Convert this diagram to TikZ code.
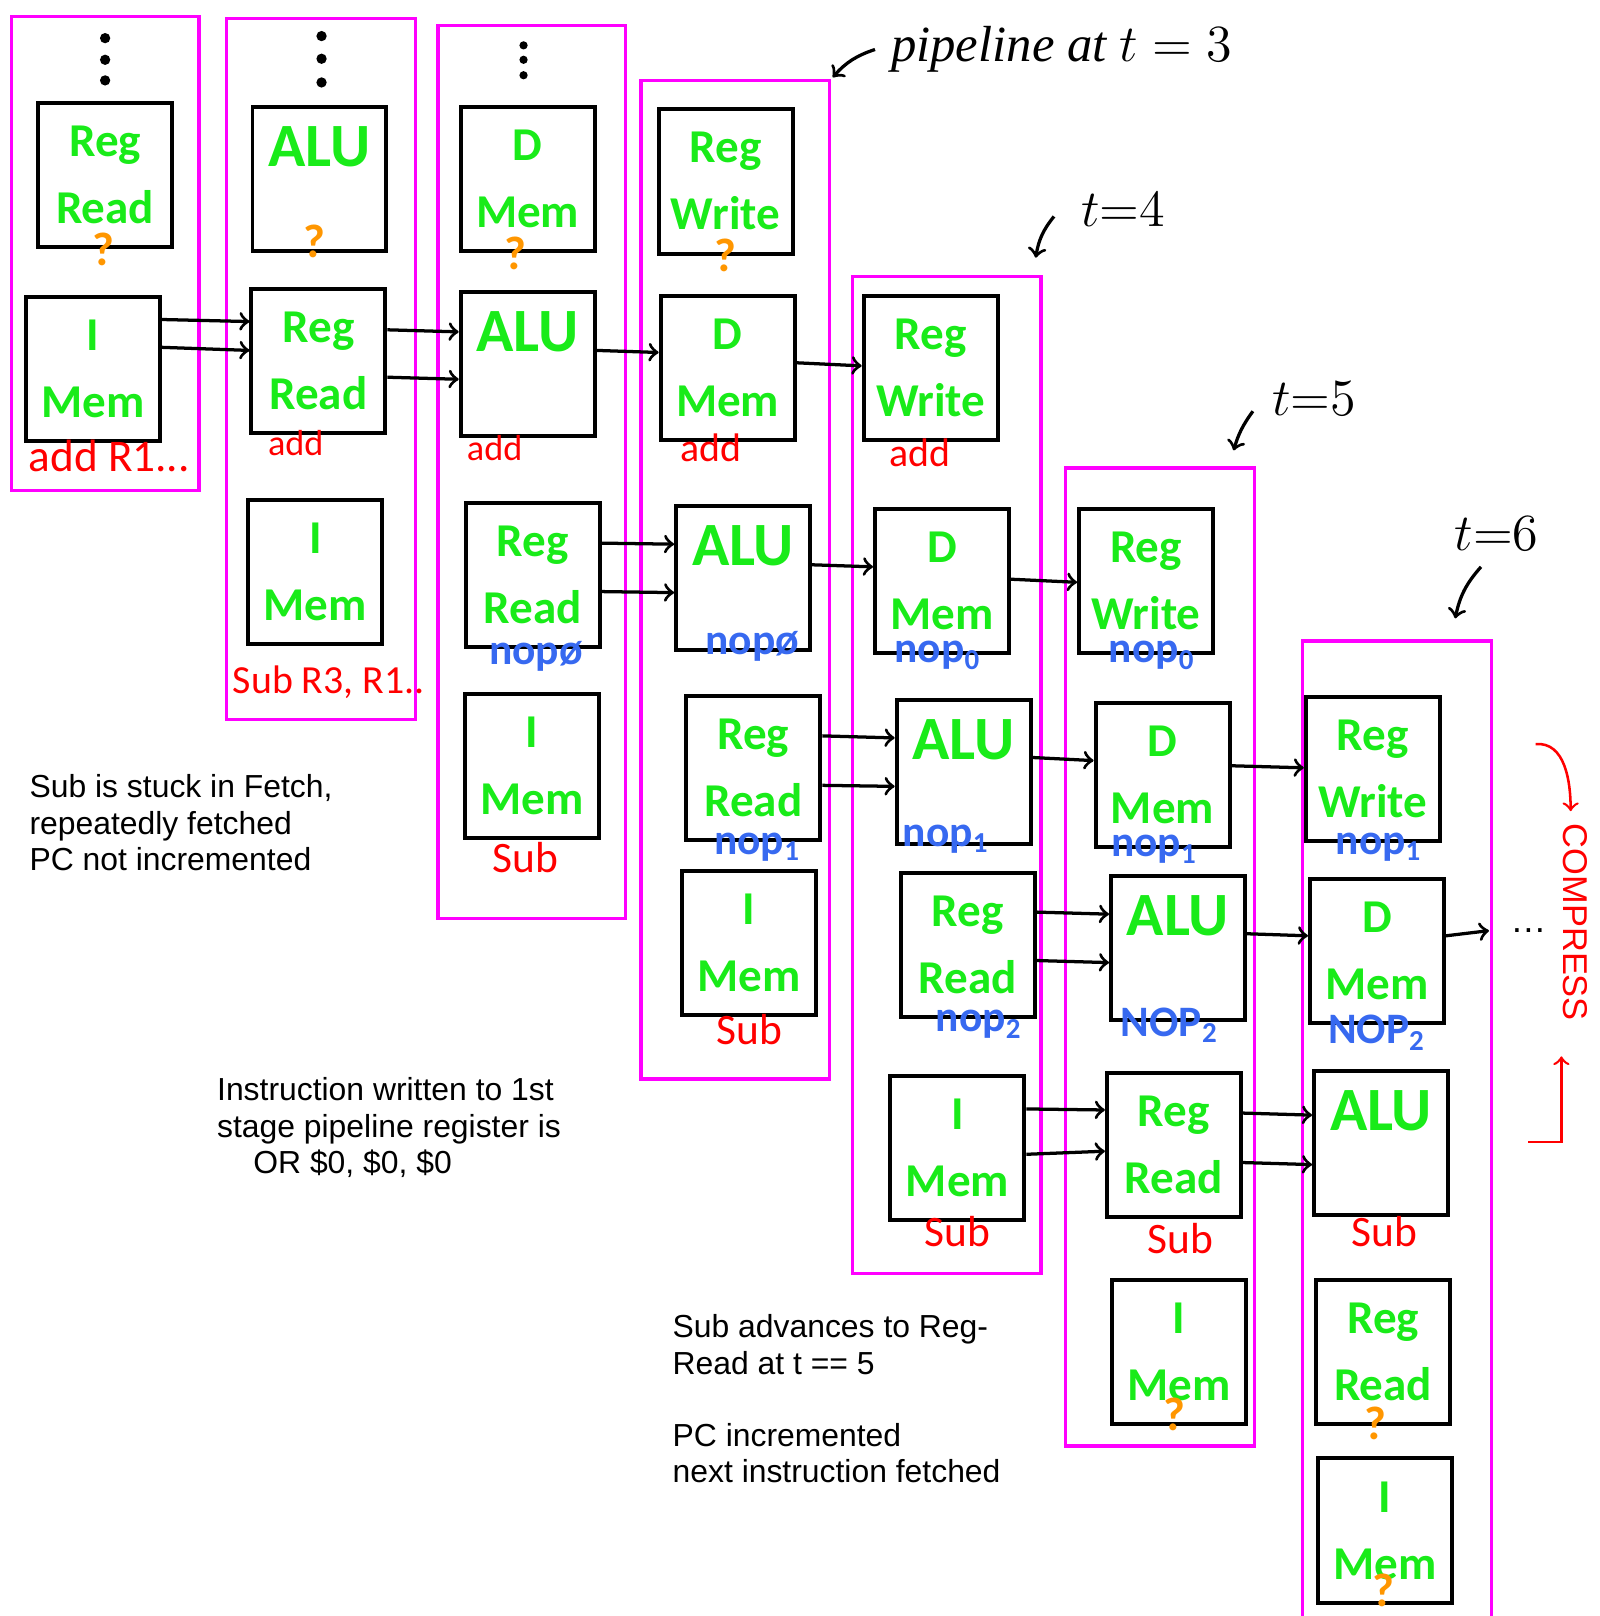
\documentclass[tikz,border=0pt]{standalone}
\usepackage{fontspec}
\setmainfont{Liberation Sans}
\newfontfamily\handfont{Carlito}
\newfontfamily\penfont{Liberation Serif}
\usetikzlibrary{shapes,arrows,positioning}

\definecolor{stagegreen}{RGB}{25,235,25}
\definecolor{framepink}{RGB}{255,0,255}
\definecolor{nopblue}{RGB}{55,105,240}
\definecolor{instred}{RGB}{255,0,0}
\definecolor{qorange}{RGB}{255,150,0}

\begin{document}
\begin{tikzpicture}[x=0.1mm, y=-0.1mm]
    % Define styles
    \tikzstyle{stage} = [draw, rectangle, line width=1.1pt, minimum width=1.3cm, minimum height=1.4cm, inner sep=0pt, text width=1.3cm, align=center, text=stagegreen, font=\handfont\bfseries\fontsize{13}{18.5}\selectfont]
    \tikzstyle{alu} = [font=\handfont\bfseries\fontsize{17}{18}\selectfont]
    \tikzstyle{frame} = [draw=framepink, line width=0.9pt]
    \tikzstyle{arrow} = [line width=0.9pt, ->, >=to]
    \tikzstyle{insttag} = [text=instred, inner sep=0pt, font=\handfont\fontsize{12}{14}\selectfont]
    \tikzstyle{noptag} = [text=nopblue, inner sep=0pt, font=\handfont\bfseries\fontsize{12}{14}\selectfont]
    \tikzstyle{qtag} = [text=qorange, inner sep=0pt, font=\handfont\bfseries\fontsize{13}{14}\selectfont]
    \tikzstyle{note} = [align=left, anchor=north west, inner sep=0pt, font=\fontsize{8.8}{10}\selectfont]
    \tikzstyle{pen} = [inner sep=0pt, font=\penfont\itshape\fontsize{14}{16}\selectfont]
    \tikzstyle{penarrow} = [line width=0.9pt, ->, >=to]
    \tikzstyle{redarrow} = [instred, line width=0.7pt, ->, >=to]

    \useasboundingbox (0,0) rectangle (1552,1568);

    % Pipeline snapshots
    \draw[frame] (11,16) rectangle (193,476);
    \draw[frame] (220,18) rectangle (403,698);
    \draw[frame] (425,25) rectangle (607,891);
    \draw[frame] (622,78) rectangle (805,1047);
    \draw[frame] (827,268) rectangle (1010,1236);
    \draw[frame] (1034,454) rectangle (1217,1403);
    \draw[frame] (1264,1580) -- (1264,622) -- (1447,622) -- (1447,1580);

    % Earlier stages
    \fill (102,37) circle (0.5mm); \fill (102,58) circle (0.5mm); \fill (102,78) circle (0.5mm);
    \fill (312,35) circle (0.5mm); \fill (312,57) circle (0.5mm); \fill (312,80) circle (0.5mm);
    \fill (508,44) circle (0.4mm); \fill (508,58) circle (0.4mm); \fill (508,73) circle (0.4mm);

    % t = 2
    \node[stage] (c1rr) at (102,170) {Reg\\Read};
    \node[stage] (c1im) at (90,358) {I\\Mem};

    % t = 3
    \node[stage, alu] (c2alu) at (310,174) {ALU\\~};
    \node[stage] (c2rr) at (309,350) {Reg\\Read};
    \node[stage] (c2im) at (306,555) {I\\Mem};

    % t = 4
    \node[stage] (c3dm) at (512,174) {D\\Mem};
    \node[stage, alu] (c3alu) at (512,353) {ALU\\~};
    \node[stage] (c3rr) at (517,558) {Reg\\Read};
    \node[stage] (c3im) at (516,743) {I\\Mem};

    % t = 5
    \node[stage] (c4rw) at (704,176) {Reg\\Write};
    \node[stage] (c4dm) at (706,357) {D\\Mem};
    \node[stage, alu] (c4alu) at (721,561) {ALU\\~};
    \node[stage] (c4rr) at (731,745) {Reg\\Read};
    \node[stage] (c4im) at (727,915) {I\\Mem};

    % t = 6
    \node[stage] (c5rw) at (903,357) {Reg\\Write};
    \node[stage] (c5dm) at (914,564) {D\\Mem};
    \node[stage, alu] (c5alu) at (935,749) {ALU\\~};
    \node[stage] (c5rr) at (939,917) {Reg\\Read};
    \node[stage] (c5im) at (929,1114) {I\\Mem};

    % t = 7
    \node[stage] (c6rw) at (1112,564) {Reg\\Write};
    \node[stage] (c6dm) at (1128,752) {D\\Mem};
    \node[stage, alu] (c6alu) at (1143,920) {ALU\\~};
    \node[stage] (c6rr) at (1139,1111) {Reg\\Read};
    \node[stage] (c6im) at (1144,1312) {I\\Mem};

    % t = 8
    \node[stage] (c7rw) at (1332,746) {Reg\\Write};
    \node[stage] (c7dm) at (1336,923) {D\\Mem};
    \node[stage, alu] (c7alu) at (1340,1109) {ALU\\~};
    \node[stage] (c7rr) at (1342,1312) {Reg\\Read};
    \node[stage] (c7im) at (1344,1485) {I\\Mem};
    \node[inner sep=0pt] (more) at (1483,903) {\dots};

    % Unknown instructions
    \node[qtag] (q1) at ([xshift=-0.2mm]c1rr.south) {?};
    \node[qtag] (q2) at ([xshift=-0.5mm, yshift=1.2mm]c2alu.south) {?};
    \node[qtag] (q3) at ([xshift=-1.2mm]c3dm.south) {?};
    \node[qtag] (q4) at (c4rw.south) {?};
    \node[qtag] (q5) at ([xshift=-0.4mm, yshift=1.2mm]c6im.south) {?};
    \node[qtag] (q6) at ([xshift=-0.7mm, yshift=0.3mm]c7rr.south) {?};
    \node[qtag] (q7) at ([xshift=-0.2mm, yshift=1.4mm]c7im.south) {?};

    % add and sub
    \node[insttag, font=\handfont\fontsize{12.5}{15}\selectfont] (a1) at ([xshift=1.6mm, yshift=-1.2mm]c1im.south) {add R1...};
    \node[insttag, font=\handfont\fontsize{10}{12}\selectfont] (a2) at ([xshift=-2.2mm, yshift=-0.8mm]c2rr.south) {add};
    \node[insttag, font=\handfont\fontsize{10}{12}\selectfont] (a3) at ([xshift=-3.2mm, yshift=-1mm]c3alu.south) {add};
    \node[insttag, font=\handfont\fontsize{11}{12}\selectfont] (a4) at ([xshift=-1.6mm, yshift=-0.6mm]c4dm.south) {add};
    \node[insttag, font=\handfont\fontsize{11}{12}\selectfont] (a5) at ([xshift=-1mm, yshift=-1mm]c5rw.south) {add};
    \node[insttag, font=\handfont\fontsize{11}{13}\selectfont] (s1) at ([xshift=1.3mm, yshift=-3.5mm]c2im.south) {Sub R3, R1..};
    \node[insttag] (s2) at ([xshift=-0.6mm, yshift=-1.7mm]c3im.south) {Sub};
    \node[insttag] (s3) at ([yshift=-1.2mm]c4im.south) {Sub};
    \node[insttag] (s4) at ([yshift=-0.9mm]c5im.south) {Sub};
    \node[insttag] (s5) at ([xshift=0.6mm, yshift=-1.9mm]c6rr.south) {Sub};
    \node[insttag] (s6) at ([xshift=0.3mm, yshift=-1.4mm]c7alu.south) {Sub};

    % Bubbles
    \node[noptag] (n1) at ([xshift=0.3mm, yshift=-0.7mm]c3rr.south) {nopø};
    \node[noptag] (n2) at ([xshift=0.9mm, yshift=0.6mm]c4alu.south) {nopø};
    \node[noptag] (n3) at ([xshift=0.4mm, yshift=-0.5mm]c4rr.south) {nop\textsubscript{1}};
    \node[noptag] (n4) at ([xshift=-0.4mm]c5dm.south) {nop\textsubscript{0}};
    \node[noptag] (n5) at ([xshift=-1.7mm, yshift=0.7mm]c5alu.south) {nop\textsubscript{1}};
    \node[noptag] (n6) at ([xshift=1.1mm, yshift=-0.5mm]c5rr.south) {nop\textsubscript{2}};
    \node[noptag] (n7) at ([xshift=0.6mm]c6rw.south) {nop\textsubscript{0}};
    \node[noptag] (n8) at ([xshift=-0.8mm]c6dm.south) {nop\textsubscript{1}};
    \node[noptag] (n9) at ([xshift=-0.8mm, yshift=-0.3mm]c6alu.south) {NOP\textsubscript{2}};
    \node[noptag] (n10) at ([xshift=0.6mm, yshift=-0.4mm]c7rw.south) {nop\textsubscript{1}};
    \node[noptag] (n11) at ([yshift=-0.7mm]c7dm.south) {NOP\textsubscript{2}};

    % Arrows: stage to stage
    \draw[arrow] ([yshift=4.8mm]c1im.east) -- ([yshift=3.8mm]c2rr.west);
    \draw[arrow] ([yshift=2.1mm]c1im.east) -- ([yshift=1mm]c2rr.west);
    \draw[arrow] ([yshift=3mm]c2rr.east) -- ([yshift=3.1mm]c3alu.west);
    \draw[arrow] ([yshift=-1.6mm]c2rr.east) -- ([yshift=-1.5mm]c3alu.west);
    \draw[arrow] ([yshift=1.3mm]c3alu.east) -- ([yshift=1.5mm]c4dm.west);
    \draw[arrow] ([yshift=0.5mm]c4dm.east) -- ([yshift=0.2mm]c5rw.west);
    \draw[arrow] ([yshift=3.1mm]c3rr.east) -- ([yshift=3.3mm]c4alu.west);
    \draw[arrow] ([yshift=-1.6mm]c3rr.east) -- ([yshift=-1.4mm]c4alu.west);
    \draw[arrow] ([yshift=1.3mm]c4alu.east) -- ([yshift=1.4mm]c5dm.west);
    \draw[arrow] ([yshift=0.2mm]c5dm.east) -- ([yshift=-0.1mm]c6rw.west);
    \draw[arrow] ([yshift=3.1mm]c4rr.east) -- ([yshift=3.3mm]c5alu.west);
    \draw[arrow] ([yshift=-1.7mm]c4rr.east) -- ([yshift=-1.4mm]c5alu.west);
    \draw[arrow] ([yshift=1.4mm]c5alu.east) -- ([yshift=1.4mm]c6dm.west);
    \draw[arrow] ([yshift=0.9mm]c6dm.east) -- ([yshift=0.1mm]c7rw.west);
    \draw[arrow] ([yshift=3.2mm]c5rr.east) -- ([yshift=3.3mm]c6alu.west);
    \draw[arrow] ([yshift=-1.5mm]c5rr.east) -- ([yshift=-1.4mm]c6alu.west);
    \draw[arrow] ([yshift=1.4mm]c6alu.east) -- ([yshift=1.5mm]c7dm.west);
    \draw[arrow] ([yshift=1.5mm]c7dm.east) -- ([xshift=-2mm]more.west);
    \draw[arrow] ([yshift=3.8mm]c5im.east) -- ([yshift=3.4mm]c6rr.west);
    \draw[arrow] ([yshift=-0.6mm]c5im.east) -- ([yshift=-0.6mm]c6rr.west);
    \draw[arrow] ([yshift=3.1mm]c6rr.east) -- ([yshift=2.7mm]c7alu.west);
    \draw[arrow] ([yshift=-1.7mm]c6rr.east) -- ([yshift=-2.1mm]c7alu.west);

    % Time labels
    \node[pen, anchor=west] (pipe) at (864,48) {pipeline at $t = 3$};
    \node[pen] (tfour) at (1090,203) {$t{=}4$};
    \node[pen] (tfive) at (1275,387) {$t{=}5$};
    \node[pen] (tsix) at (1452,518) {$t{=}6$};
    \coordinate (pipeend) at (808,75);
    \coordinate (tfourend) at (1005,250);
    \coordinate (tfiveend) at (1197,437);
    \coordinate (tsixend) at (1412,600);
    \draw[penarrow] ([xshift=-1.5mm]pipe.west) to[bend right=15] (pipeend);
    \draw[penarrow] ([xshift=-2.6mm, yshift=1mm]tfour.south west) to[bend right=15] (tfourend);
    \draw[penarrow] ([xshift=-1.8mm, yshift=0.5mm]tfive.south west) to[bend right=10] (tfiveend);
    \draw[penarrow] ([xshift=-1.5mm, yshift=-1.5mm]tsix.south) to[bend right=15] (tsixend);

    % Compress
    \node[text=instred, rotate=-90, inner sep=0pt, font=\fontsize{9.5}{12}\selectfont] (compress) at (1529,895) {COMPRESS};
    \coordinate (cmpa) at (1490,722);
    \coordinate (cmpb) at (1524,787);
    \coordinate (cmpc) at (1483,1108);
    \coordinate (cmpd) at (1515,1025);
    \draw[redarrow] (cmpa) to[out=5, in=90] (cmpb);
    \draw[redarrow] (cmpc) -| (cmpd);

    % Notes
    \node[note] (stuck) at (28,751) {Sub is stuck in Fetch,\\repeatedly fetched\\PC not incremented};
    \node[note] (orzero) at (210,1045) {Instruction written to 1st\\stage pipeline register is\\\hspace*{10pt}OR \$0, \$0, \$0};
    \node[note] (advance) at (652,1275) {Sub advances to Reg-\\Read at t == 5\\[10pt]PC incremented\\next instruction fetched};
\end{tikzpicture}
\end{document}
